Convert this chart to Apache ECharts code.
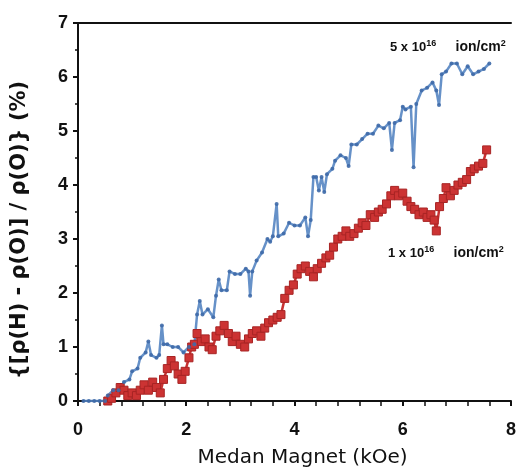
<!DOCTYPE html>
<html>
<head>
<meta charset="utf-8">
<script src="https://cdn.jsdelivr.net/npm/echarts@6/dist/echarts.min.js"></script>
<style>
html,body{margin:0;padding:0;background:#fff;}
#c{width:519px;height:474px;}
</style>
</head>
<body>
<div id="c"></div>
<script>
// 5 x 10^16 ion/cm2 (blue)
const blueX = [0.10,0.20,0.30,0.40,0.50,0.55,0.65,0.75,0.85,0.95,1.00,1.10,1.15,1.25,1.30,1.35,1.45,1.50,1.55,1.58,1.65,1.75,1.85,1.95,2.05,2.15,2.20,2.25,2.30,2.40,2.50,2.55,2.60,2.65,2.75,2.80,2.90,3.00,3.10,3.15,3.18,3.22,3.30,3.40,3.50,3.55,3.60,3.67,3.70,3.80,3.90,4.00,4.10,4.20,4.25,4.30,4.35,4.40,4.45,4.50,4.55,4.60,4.70,4.75,4.85,4.95,5.00,5.05,5.15,5.25,5.35,5.45,5.55,5.65,5.75,5.80,5.85,5.95,6.00,6.05,6.15,6.20,6.25,6.35,6.45,6.55,6.62,6.67,6.72,6.80,6.90,7.00,7.10,7.20,7.30,7.40,7.50,7.60];
const blueY = [0.00,0.00,0.00,0.00,0.00,0.10,0.20,0.20,0.35,0.40,0.55,0.60,0.80,0.90,1.10,0.85,0.80,0.85,1.40,1.05,1.05,1.00,1.00,0.90,1.00,1.05,1.60,1.85,1.60,1.70,1.55,1.95,2.25,2.05,2.05,2.40,2.35,2.35,2.45,2.40,1.95,2.40,2.60,2.75,3.00,2.95,3.05,3.65,3.05,3.10,3.30,3.25,3.25,3.40,3.05,3.35,4.15,4.15,3.90,4.15,3.87,4.20,4.30,4.45,4.55,4.50,4.35,4.75,4.75,4.85,4.95,4.95,5.10,5.05,5.15,4.65,5.15,5.20,5.45,5.40,5.45,4.33,5.50,5.75,5.80,5.90,5.75,5.48,6.05,6.10,6.25,6.25,6.05,6.20,6.05,6.10,6.15,6.25];

// 1 x 10^16 ion/cm2 (red)
const redX = [0.55,0.62,0.70,0.78,0.85,0.92,1.00,1.08,1.15,1.22,1.30,1.38,1.45,1.52,1.58,1.65,1.72,1.78,1.85,1.92,1.98,2.05,2.10,2.15,2.20,2.28,2.35,2.42,2.48,2.55,2.62,2.70,2.78,2.85,2.92,3.00,3.08,3.15,3.22,3.30,3.38,3.45,3.52,3.60,3.68,3.75,3.82,3.90,3.98,4.05,4.12,4.20,4.28,4.35,4.42,4.50,4.58,4.65,4.72,4.80,4.88,4.95,5.02,5.10,5.18,5.25,5.32,5.40,5.48,5.55,5.62,5.70,5.78,5.85,5.92,6.00,6.08,6.15,6.22,6.30,6.38,6.45,6.52,6.58,6.62,6.68,6.75,6.80,6.88,6.95,7.02,7.10,7.18,7.25,7.32,7.40,7.48,7.55];
const redY = [0.00,0.05,0.15,0.25,0.20,0.10,0.15,0.10,0.20,0.30,0.20,0.35,0.25,0.15,0.40,0.60,0.75,0.65,0.50,0.40,0.55,0.80,1.00,1.05,1.25,1.10,1.15,1.00,0.95,1.20,1.30,1.40,1.25,1.10,1.20,1.05,1.00,1.15,1.25,1.30,1.20,1.35,1.45,1.50,1.55,1.60,1.90,2.05,2.15,2.35,2.45,2.50,2.40,2.30,2.45,2.55,2.65,2.70,2.85,3.00,3.05,3.15,3.05,3.10,3.20,3.30,3.25,3.45,3.40,3.50,3.55,3.65,3.80,3.90,3.80,3.85,3.70,3.60,3.55,3.45,3.50,3.40,3.45,3.35,3.15,3.60,3.75,3.95,3.80,3.90,4.00,4.05,4.10,4.25,4.30,4.35,4.40,4.65];

const xTicks = [0, 2, 4, 6, 8];
const yTicks = [0, 1, 2, 3, 4, 5, 6, 7];

const zip = (xs, ys) => xs.map((x, i) => [x, ys[i]]);
const FONT = "'Liberation Sans',Arial,sans-serif";
const WIDE = "'DejaVu Sans',sans-serif";

const chart = echarts.init(document.getElementById('c'), null, {renderer: 'canvas'});
chart.setOption({
  animation: false,
  backgroundColor: '#ffffff',
  grid: {left: 78, right: 1, top: 23, bottom: 73},
  xAxis: [{
    type: 'value', min: 0, max: 8, interval: 2,
    name: 'Medan Magnet (kOe)', nameLocation: 'middle', nameGap: 47,
    nameTextStyle: {fontFamily: WIDE, fontSize: 20, color: '#111', padding: [0, 0, 0, 16]},
    axisLine: {show: true, lineStyle: {color: '#111', width: 2}},
    axisTick: {show: true, length: 5, lineStyle: {color: '#111', width: 2}},
    minorTick: {show: true, splitNumber: 5, length: 5, lineStyle: {color: '#111', width: 1.5}},
    axisLabel: {margin: 20, fontFamily: FONT, fontWeight: 'bold', fontSize: 18, color: '#111',
      formatter: v => xTicks.includes(v) ? String(v) : ''},
    splitLine: {show: false}
  }, {
    type: 'value', min: 0, max: 8, position: 'top',
    axisLine: {show: true, onZero: false, lineStyle: {color: '#111', width: 2}},
    axisTick: {show: false}, axisLabel: {show: false}, splitLine: {show: false}
  }],
  yAxis: {
    type: 'value', min: 0, max: 7, interval: 1,
    axisLine: {show: true, lineStyle: {color: '#111', width: 2}},
    axisTick: {show: true, length: 5, lineStyle: {color: '#111', width: 2}},
    minorTick: {show: true, splitNumber: 2, length: 3, lineStyle: {color: '#111', width: 1.5}},
    axisLabel: {margin: 10, fontFamily: FONT, fontWeight: 'bold', fontSize: 18, color: '#111',
      formatter: v => yTicks.includes(v) ? String(v) : ''},
    splitLine: {show: false}
  },
  graphic: [
    {type: 'text', x: 20, y: 230, rotation: Math.PI / 2,
      style: {text: '{[ρ(H) - ρ(O)] / ρ(O)} (%)', fontFamily: WIDE, fontWeight: 'bold',
        fontSize: 21, fill: '#111', align: 'center', verticalAlign: 'middle'}},
    {type: 'text', x: 390, y: 39,
      style: {rich: {a: {fontFamily: FONT, fontWeight: 'bold', fontSize: 13, fill: '#111'},
                     b: {fontFamily: FONT, fontWeight: 'bold', fontSize: 14, fill: '#111'},
                     s: {fontFamily: FONT, fontWeight: 'bold', fontSize: 9, fill: '#111', verticalAlign: 'top', padding: [0, 0, 8, 0]}},
        text: '{a|5 x 10}{s|16}{b|     ion/cm}{s|2}'}},
    {type: 'text', x: 388, y: 245,
      style: {rich: {a: {fontFamily: FONT, fontWeight: 'bold', fontSize: 13, fill: '#111'},
                     b: {fontFamily: FONT, fontWeight: 'bold', fontSize: 14, fill: '#111'},
                     s: {fontFamily: FONT, fontWeight: 'bold', fontSize: 9, fill: '#111', verticalAlign: 'top', padding: [0, 0, 8, 0]}},
        text: '{a|1 x 10}{s|16}{b|     ion/cm}{s|2}'}}
  ],
  series: [
    {type: 'line', name: '1 x 10^16', data: zip(redX, redY),
      symbol: 'rect', symbolSize: 8,
      lineStyle: {color: '#c83232', width: 2.5},
      itemStyle: {color: '#cc3333', borderColor: '#a82424', borderWidth: 1}},
    {type: 'line', name: '5 x 10^16', data: zip(blueX, blueY),
      symbol: 'circle', symbolSize: 4,
      lineStyle: {color: '#5585c2', width: 2.5, opacity: 0.9},
      itemStyle: {color: '#3f6aa8', opacity: 0.9}}
  ]
});
</script>
</body>
</html>
